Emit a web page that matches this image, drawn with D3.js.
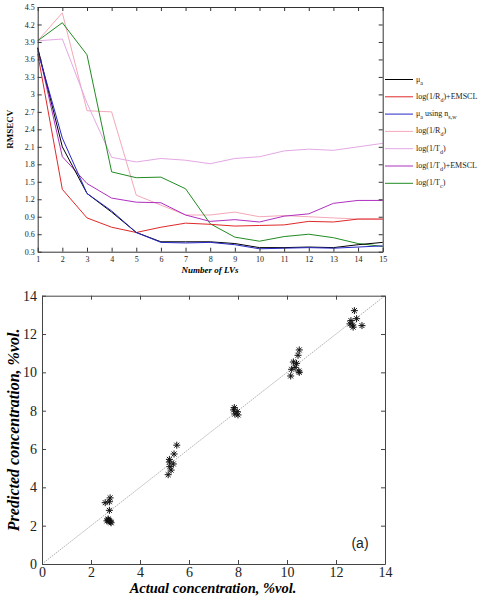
<!DOCTYPE html>
<html><head><meta charset="utf-8">
<script src="https://cdn.jsdelivr.net/npm/d3@7"></script>
<style>body{margin:0;background:#fff}svg{display:block}text{font-family:'Liberation Serif','Times New Roman',serif}</style>
</head><body>
<svg id="c" width="487" height="597"></svg>
<script>
// ---------- Top panel data ----------
const lvs = [1,2,3,4,5,6,7,8,9,10,11,12,13,14,15];
const seriesNames = ["mu_a","logRd_EMSCL","mu_a_nsw","logRd","logTd","logTd_EMSCL","logTc"];
const muA        = [3.80,2.10,1.30,0.98,0.63,0.47,0.47,0.47,0.44,0.37,0.37,0.38,0.37,0.42,0.46];
const logRdEMSCL = [3.70,1.37,0.88,0.72,0.63,0.72,0.79,0.77,0.74,0.75,0.76,0.82,0.81,0.86,0.86];
const muANsw     = [3.75,2.25,1.30,1.00,0.63,0.46,0.45,0.46,0.42,0.35,0.36,0.37,0.36,0.38,0.40];
const logRd      = [3.92,4.40,2.72,2.70,1.27,1.10,0.93,0.93,0.98,0.90,0.92,0.90,0.88,0.86,0.86];
const logTd      = [3.92,3.95,2.85,1.92,1.84,1.90,1.87,1.81,1.90,1.93,2.03,2.06,2.04,2.10,2.16];
const logTdEMSCL = [3.80,1.93,1.47,1.22,1.15,1.14,0.93,0.82,0.85,0.81,0.91,0.95,1.13,1.18,1.18];
const logTc      = [3.92,4.23,3.68,1.67,1.57,1.58,1.38,0.78,0.55,0.48,0.56,0.60,0.54,0.44,0.39];
const seriesColors = ["#000000","#e02828","#2828c8","#f4a8b8","#e4a8e4","#b030c0","#228b22"];
// legend labels: [text, subscript, text, subscript]
const legendLabels = [
  ["\u03bc","a","",""],
  ["log(1/R","d",")+EMSCL",""],
  ["\u03bc","a"," using n","s,w"],
  ["log(1/R","d",")",""],
  ["log(1/T","d",")",""],
  ["log(1/T","d",")+EMSCL",""],
  ["log(1/T","c",")",""]
];
const topYTicks = [0.3,0.6,0.9,1.2,1.5,1.8,2.1,2.4,2.7,3,3.3,3.6,3.9,4.2,4.5];

// ---------- Bottom panel data ----------
const actual = [2.58,2.78,2.75,2.75,2.70,2.65,2.75,2.80,2.70,2.82,2.72,
                5.50,5.39,5.20,5.36,5.22,5.27,5.15,5.20,
                7.85,7.97,7.87,8.00,7.82,
                10.50,10.45,10.26,10.39,10.19,10.33,10.48,10.15,10.50,
                12.75,12.84,12.61,12.68,12.57,13.06,12.70];
const predicted = [3.20,3.45,3.25,2.80,2.30,2.25,2.25,2.20,2.35,2.15,2.28,
                   6.20,5.74,5.46,5.22,5.08,4.90,4.66,5.32,
                   8.16,7.95,7.83,7.78,8.04,
                   11.17,10.89,10.54,10.47,10.16,10.26,10.07,9.81,10.00,
                   13.22,12.80,12.70,12.47,12.53,12.44,12.36];
const bottomTicks = [0,2,4,6,8,10,12,14];

const svg = d3.select("#c");
const serif = "'Liberation Serif','Times New Roman',serif";

// ================= TOP PANEL =================
const T = {l:37.7, r:382.7, t:7, b:251.7};
const xT = d3.scaleLinear().domain([1,15]).range([T.l,T.r]);
const yT = d3.scaleLinear().domain([0.3,4.5]).range([T.b,T.t]);
const gT = svg.append("g");

const allSeries = [muA,logRdEMSCL,muANsw,logRd,logTd,logTdEMSCL,logTc];
const line = d3.line().x((d,i)=>xT(lvs[i])).y(d=>yT(d));
const drawOrder = [3,4,6,5,1,0,2];
drawOrder.forEach(k=>{
  gT.append("path").datum(allSeries[k]).attr("d",line)
    .attr("fill","none").attr("stroke",seriesColors[k]).attr("stroke-width",1);
});

const axB = gT.append("g").attr("transform",`translate(0,${T.b})`)
  .call(d3.axisBottom(xT).tickValues(lvs).tickFormat(d3.format("d")).tickSizeInner(-4).tickSizeOuter(0).tickPadding(5));
const axL = gT.append("g").attr("transform",`translate(${T.l},0)`)
  .call(d3.axisLeft(yT).tickValues(topYTicks).tickFormat(d=>String(d)).tickSizeInner(-4).tickSizeOuter(0).tickPadding(3));
const axTop = gT.append("g").attr("transform",`translate(0,${T.t})`)
  .call(d3.axisTop(xT).tickValues(lvs).tickFormat("").tickSizeInner(-4).tickSizeOuter(0));
const axR = gT.append("g").attr("transform",`translate(${T.r},0)`)
  .call(d3.axisRight(yT).tickValues(topYTicks).tickFormat("").tickSizeInner(-4).tickSizeOuter(0));
[axB,axL,axTop,axR].forEach(a=>{
  a.attr("font-family",serif);
  a.selectAll("path,line").attr("stroke","#333");
  a.selectAll("text").style("font-family",serif).attr("font-size",8).attr("fill","#222");
});

gT.append("text").attr("transform",`translate(13,${(T.t+T.b)/2}) rotate(-90)`)
  .attr("text-anchor","middle").attr("font-weight","bold")
  .attr("font-size",9).text("RMSECV");
gT.append("text").attr("x",210).attr("y",273).attr("text-anchor","middle")
  .attr("font-weight","bold").attr("font-style","italic")
  .attr("font-size",9).text("Number of LVs");

const lg = gT.append("g");
legendLabels.forEach((lab,i)=>{
  const y = 79.5 + i*17.3;
  lg.append("line").attr("x1",385).attr("x2",413).attr("y1",y).attr("y2",y)
    .attr("stroke",seriesColors[i]).attr("stroke-width",1);
  const t = lg.append("text").attr("x",416).attr("y",y+2)
    .attr("font-size",8).attr("fill","#222");
  t.append("tspan").text(lab[0]);
  if(lab[1]) t.append("tspan").attr("dy",3).attr("font-size",6).text(lab[1]);
  if(lab[2]) t.append("tspan").attr("dy",-3).text(lab[2]);
  if(lab[3]) t.append("tspan").attr("dy",3).attr("font-size",6).text(lab[3]);
});

// ================= BOTTOM PANEL =================
const B = {l:42, r:385, t:295.7, b:564};
const xB = d3.scaleLinear().domain([0,14]).range([B.l,B.r]);
const yB = d3.scaleLinear().domain([0,14]).range([B.b,B.t]);
const gB = svg.append("g");

gB.append("line").attr("x1",xB(0)).attr("y1",yB(0)).attr("x2",xB(14)).attr("y2",yB(14))
  .attr("stroke","#999").attr("stroke-width",0.8).attr("stroke-dasharray","1.5,1");

const star = (r)=>{
  const p = d3.path();
  for(let k=0;k<4;k++){
    const a = k*Math.PI/4;
    p.moveTo(-r*Math.cos(a),-r*Math.sin(a)); p.lineTo(r*Math.cos(a),r*Math.sin(a));
  }
  return p.toString();
};
gB.selectAll("path.pt").data(actual).join("path").attr("class","pt")
  .attr("transform",(d,i)=>`translate(${xB(d)},${yB(predicted[i])})`)
  .attr("d",star(3.5)).attr("stroke","#111").attr("stroke-width",1).attr("fill","none");

const bB = gB.append("g").attr("transform",`translate(0,${B.b})`)
  .call(d3.axisBottom(xB).tickValues(bottomTicks).tickFormat(d3.format("d")).tickSizeInner(-4).tickSizeOuter(0).tickPadding(3));
const bL = gB.append("g").attr("transform",`translate(${B.l},0)`)
  .call(d3.axisLeft(yB).tickValues(bottomTicks).tickFormat(d3.format("d")).tickSizeInner(-4).tickSizeOuter(0).tickPadding(5));
const bT = gB.append("g").attr("transform",`translate(0,${B.t})`)
  .call(d3.axisTop(xB).tickValues(bottomTicks).tickFormat("").tickSizeInner(-4).tickSizeOuter(0));
const bR = gB.append("g").attr("transform",`translate(${B.r},0)`)
  .call(d3.axisRight(yB).tickValues(bottomTicks).tickFormat("").tickSizeInner(-4).tickSizeOuter(0));
[bB,bL,bT,bR].forEach(a=>{
  a.attr("font-family",serif);
  a.selectAll("path,line").attr("stroke","#444");
  a.selectAll("text").style("font-family",serif).attr("font-size",14).attr("fill","#222");
});

gB.append("text").attr("x",213).attr("y",593).attr("text-anchor","middle")
  .attr("font-weight","bold").attr("font-style","italic")
  .attr("font-size",14.5).text("Actual concentration, %vol.");
gB.append("text").attr("transform",`translate(19,${(B.t+B.b)/2}) rotate(-90)`)
  .attr("text-anchor","middle").attr("font-weight","bold")
  .attr("font-style","italic").attr("font-size",16).text("Predicted concentration, %vol.");
gB.append("text").attr("x",360).attr("y",548).attr("text-anchor","middle")
  .style("font-family","'Liberation Sans',Arial,sans-serif").attr("font-size",14)
  .attr("fill","#222").text("(a)");
</script>
</body></html>
